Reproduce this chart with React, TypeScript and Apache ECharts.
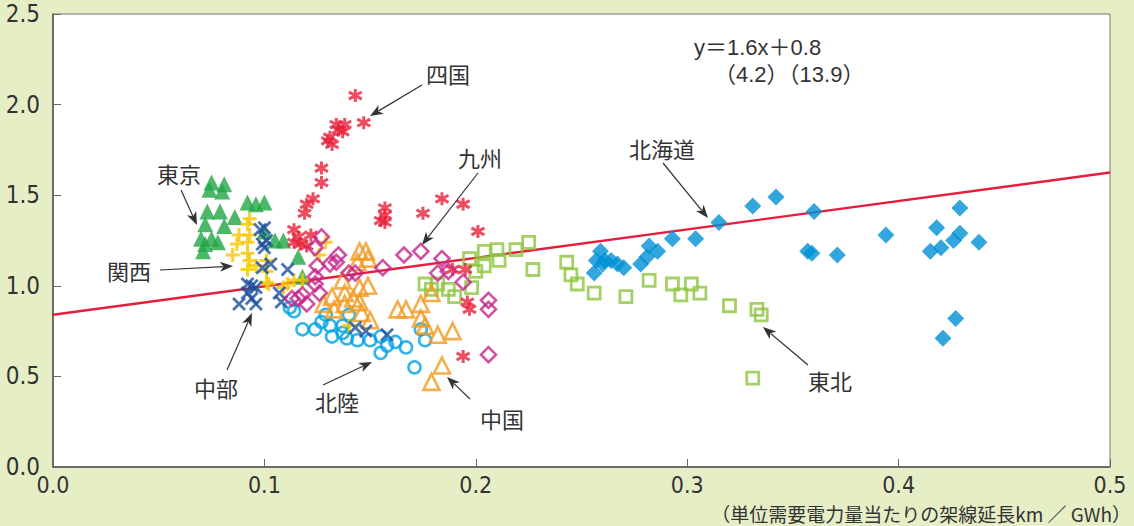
import React, { useEffect, useRef } from "react";
import * as echarts from "echarts";

// Regional scatter: overhead line length per unit demand (x) vs. cost index (y)
const shikoku = [[0.143,2.05],[0.147,1.90],[0.138,1.89],[0.135,1.86],[0.134,1.89],[0.137,1.85],[0.131,1.82],[0.132,1.78],[0.130,1.80],[0.127,1.65],[0.127,1.57],[0.123,1.48],[0.120,1.45],[0.119,1.40],[0.157,1.43],[0.157,1.39],[0.155,1.36],[0.157,1.35],[0.175,1.40],[0.184,1.48],[0.194,1.45],[0.201,1.30],[0.114,1.31],[0.116,1.27],[0.122,1.28],[0.117,1.23],[0.120,1.22],[0.114,1.24],[0.189,1.09],[0.195,1.09],[0.196,0.91],[0.197,0.87],[0.194,0.61]];
const tokyo = [[0.075,1.57],[0.081,1.56],[0.074,1.53],[0.080,1.52],[0.073,1.41],[0.079,1.41],[0.086,1.38],[0.092,1.46],[0.096,1.45],[0.100,1.46],[0.072,1.34],[0.081,1.33],[0.070,1.26],[0.075,1.26],[0.078,1.24],[0.072,1.23],[0.071,1.19],[0.100,1.30],[0.105,1.25],[0.109,1.25],[0.116,1.16],[0.118,1.05]];
const kansai = [[0.093,1.37],[0.092,1.34],[0.088,1.28],[0.093,1.28],[0.087,1.23],[0.092,1.24],[0.085,1.17],[0.092,1.18],[0.093,1.14],[0.096,1.11],[0.101,1.14],[0.101,1.08],[0.092,1.09],[0.114,1.03],[0.129,1.24],[0.126,1.17],[0.111,1.01],[0.102,1.01],[0.118,1.03],[0.140,0.78],[0.109,0.99],[0.101,1.02]];
const chubu = [[0.098,1.31],[0.100,1.32],[0.101,1.25],[0.100,1.21],[0.099,1.23],[0.103,1.12],[0.099,1.10],[0.111,1.09],[0.094,1.00],[0.096,0.99],[0.092,0.96],[0.088,0.90],[0.096,0.90],[0.094,0.93],[0.107,0.96],[0.108,0.91],[0.143,0.77],[0.148,0.75],[0.158,0.73],[0.092,1.01]];
const kyushu = [[0.127,1.27],[0.124,1.21],[0.135,1.17],[0.131,1.12],[0.125,1.11],[0.140,1.07],[0.124,1.05],[0.124,1.01],[0.126,0.96],[0.113,0.93],[0.116,0.93],[0.120,0.90],[0.118,0.95],[0.156,1.10],[0.166,1.17],[0.174,1.19],[0.184,1.15],[0.182,1.07],[0.187,1.08],[0.194,1.02],[0.206,0.92],[0.206,0.87],[0.206,0.62],[0.134,1.13],[0.143,1.07]];
const chugoku = [[0.145,1.19],[0.148,1.19],[0.144,1.13],[0.137,1.03],[0.145,0.99],[0.149,1.00],[0.132,0.94],[0.138,0.96],[0.142,0.93],[0.128,0.90],[0.133,0.87],[0.138,0.90],[0.145,0.91],[0.146,0.85],[0.150,0.81],[0.163,0.87],[0.167,0.87],[0.174,0.90],[0.179,0.96],[0.174,0.82],[0.176,0.78],[0.182,0.73],[0.189,0.75],[0.184,0.56],[0.179,0.47],[0.149,1.15]];
const hokuriku = [[0.112,0.88],[0.118,0.76],[0.124,0.76],[0.127,0.80],[0.131,0.78],[0.129,0.84],[0.132,0.72],[0.137,0.74],[0.139,0.71],[0.144,0.70],[0.140,0.84],[0.137,0.78],[0.150,0.70],[0.155,0.72],[0.158,0.67],[0.162,0.69],[0.167,0.66],[0.155,0.63],[0.171,0.55],[0.176,0.70],[0.174,0.76],[0.114,0.86]];
const tohoku = [[0.197,1.15],[0.204,1.19],[0.210,1.20],[0.219,1.20],[0.225,1.24],[0.211,1.14],[0.204,1.11],[0.200,1.08],[0.227,1.09],[0.198,0.99],[0.176,1.01],[0.182,1.01],[0.187,0.98],[0.190,0.94],[0.179,0.98],[0.243,1.13],[0.245,1.06],[0.248,1.01],[0.256,0.96],[0.271,0.94],[0.282,1.03],[0.293,1.01],[0.297,0.95],[0.302,1.01],[0.306,0.96],[0.320,0.89],[0.333,0.87],[0.335,0.84],[0.331,0.49]];
const hokkaido = [[0.259,1.19],[0.257,1.14],[0.261,1.14],[0.264,1.14],[0.267,1.12],[0.270,1.10],[0.256,1.07],[0.260,1.12],[0.278,1.12],[0.281,1.16],[0.282,1.22],[0.286,1.19],[0.293,1.26],[0.304,1.26],[0.315,1.35],[0.331,1.44],[0.342,1.49],[0.360,1.41],[0.357,1.19],[0.359,1.18],[0.371,1.17],[0.394,1.28],[0.418,1.32],[0.429,1.43],[0.429,1.29],[0.426,1.25],[0.415,1.19],[0.420,1.21],[0.438,1.24],[0.427,0.82],[0.421,0.71]];

// Fitted line (label shows rounded coefficients)
const slope = 1.57;
const intercept = 0.84;
const xRange = [0, 0.5];
const yRange = [0, 2.5];

const FONT_NUM = "'Liberation Sans Narrow', 'DejaVu Sans Condensed', 'Liberation Sans', sans-serif";
const FONT_JP = "'Noto Sans CJK JP', 'Noto Sans', sans-serif";
const FONT_EQ = "'Liberation Sans', 'Noto Sans CJK JP', sans-serif";

const ASTERISK = "path://M10,0L10,20M1.3,4.5L18.7,15.5M1.3,15.5L18.7,4.5";
const PLUS = "path://M10,0L10,20M0,10L20,10";
const CROSS = "path://M0,0L20,20M0,20L20,0";

function arrow(x1: number, y1: number, x2: number, y2: number) {
  const dx = x2 - x1, dy = y2 - y1;
  const len = Math.hypot(dx, dy);
  const ux = dx / len, uy = dy / len;
  const L = 13, W = 5;
  const bx = x2 - ux * L, by = y2 - uy * L;
  return [
    { type: "line", z: 100, shape: { x1, y1, x2: bx + ux * 3, y2: by + uy * 3 }, style: { stroke: "#333", lineWidth: 1.2 } },
    {
      type: "polygon", z: 100,
      shape: { points: [[x2, y2], [bx - uy * W, by + ux * W], [bx + ux * 3.5, by + uy * 3.5], [bx + uy * W, by - ux * W]] },
      style: { fill: "#333" },
    },
  ];
}

function label(text: string, x: number, y: number) {
  return {
    type: "text", z: 100, x, y,
    style: { text, fill: "#333", font: `22px ${FONT_JP}`, align: "center", verticalAlign: "middle" },
  };
}

export default function App() {
  const ref = useRef<HTMLDivElement>(null);
  useEffect(() => {
    if (!ref.current) return;
    const chart = echarts.init(ref.current, undefined, { renderer: "svg" });
    const open = (color: string, width = 2) => ({ color: "rgba(0,0,0,0)", borderColor: color, borderWidth: width });
    const stroked = (color: string, width: number) => ({ color, borderColor: color, borderWidth: width });

    const axisLabel = {
      formatter: (v: number) => v.toFixed(1),
      fontSize: 23,
      color: "#333",
      fontFamily: FONT_NUM,
    };

    chart.setOption({
      animation: false,
      backgroundColor: "#e6eec6",
      grid: { left: 53, right: 24, top: 14, bottom: 59, show: true, backgroundColor: "#fff", borderColor: "#777", borderWidth: 1 },
      xAxis: {
        type: "value", min: xRange[0], max: xRange[1], interval: 0.1,
        axisLine: { show: true, onZero: false, lineStyle: { color: "#555", width: 1.5 } },
        axisTick: { show: true, inside: true, length: 8, lineStyle: { color: "#666" } },
        splitLine: { show: false },
        axisLabel: { ...axisLabel, margin: 6 },
      },
      yAxis: {
        type: "value", min: yRange[0], max: yRange[1], interval: 0.5,
        axisLine: { show: true, onZero: false, lineStyle: { color: "#555", width: 1.5 } },
        axisTick: { show: true, inside: true, length: 8, lineStyle: { color: "#666" } },
        splitLine: { show: false },
        axisLabel: { ...axisLabel, fontSize: 24, margin: 13 },
      },
      series: [
        {
          type: "line", name: "回帰直線", data: xRange.map((x) => [x, slope * x + intercept]),
          symbol: "none", lineStyle: { color: "#e61e3c", width: 2.4 }, z: 1, silent: true,
        },
        { type: "scatter", name: "東北", data: tohoku, symbol: "rect", symbolSize: 12, itemStyle: open("#8dc63f", 2.8) },
        { type: "scatter", name: "北海道", data: hokkaido, symbol: "diamond", symbolSize: 17, itemStyle: { color: "#0091d5" } },
        { type: "scatter", name: "北陸", data: hokuriku, symbol: "circle", symbolSize: 12, itemStyle: open("#00a3e3", 2.6) },
        { type: "scatter", name: "中国", data: chugoku, symbol: "triangle", symbolSize: 16, itemStyle: open("#f39a1f", 2.6) },
        { type: "scatter", name: "東京", data: tokyo, symbol: "triangle", symbolSize: 16, itemStyle: { color: "#21a645" } },
        { type: "scatter", name: "四国", data: shikoku, symbol: ASTERISK, symbolSize: 13, itemStyle: stroked("#e8203a", 3) },
        { type: "scatter", name: "関西", data: kansai, symbol: PLUS, symbolSize: 14, itemStyle: stroked("#f7c400", 3) },
        { type: "scatter", name: "中部", data: chubu, symbol: CROSS, symbolSize: 12, itemStyle: stroked("#1c4f9c", 2.8) },
        { type: "scatter", name: "九州", data: kyushu, symbol: "diamond", symbolSize: 15, itemStyle: open("#c5258c", 2.6) },
      ],
      graphic: [
        label("四国", 448, 73), ...arrow(422, 85, 370, 116),
        label("九州", 480, 157), ...arrow(478, 173, 422, 245),
        label("東京", 179, 173), ...arrow(181, 190, 197, 225),
        label("関西", 129, 270), ...arrow(160, 270, 233, 266),
        label("中部", 216, 387), ...arrow(227, 370, 252, 313),
        label("北陸", 337, 401), ...arrow(323, 385, 372, 362),
        label("中国", 502, 418), ...arrow(470, 399, 447, 377),
        label("北海道", 662, 148), ...arrow(663, 163, 708, 218),
        label("東北", 830, 380), ...arrow(808, 365, 763, 327),
        {
          type: "text", z: 100, x: 694, y: 47,
          style: { text: "y＝1.6x＋0.8", fill: "#333", font: `22px ${FONT_EQ}`, align: "left", verticalAlign: "middle" },
        },
        {
          type: "text", z: 100, x: 714, y: 74,
          style: { text: "（4.2）（13.9）", fill: "#333", font: `22px ${FONT_EQ}`, align: "left", verticalAlign: "middle" },
        },
        {
          type: "text", z: 100, x: 1131, y: 513,
          style: { text: "（単位需要電力量当たりの架線延長km ／ GWh）", fill: "#333", font: `19px ${FONT_JP}`, align: "right", verticalAlign: "middle" },
        },
      ],
    });
    return () => chart.dispose();
  }, []);

  return <div ref={ref} style={{ position: "absolute", left: 0, top: 0, width: 1134, height: 526 }} />;
}
